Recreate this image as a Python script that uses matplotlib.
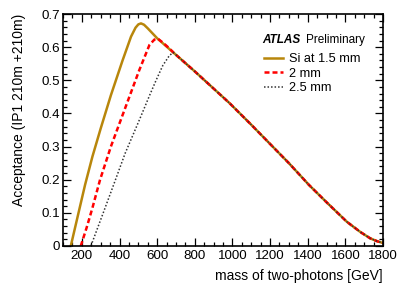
import matplotlib
matplotlib.use("Agg")
import matplotlib.pyplot as plt
from matplotlib.ticker import MultipleLocator, FixedLocator, FuncFormatter
from matplotlib.lines import Line2D

plt.rcParams['font.family'] = ['Liberation Sans', 'DejaVu Sans']

# --- data ---
gold_rise_mass = [141, 180, 217, 256, 300, 354, 416, 461, 485, 500, 514, 530, 550, 600]
gold_rise_acc = [0.0, 0.095, 0.185, 0.27, 0.355, 0.455, 0.56, 0.632, 0.659, 0.669, 0.672, 0.668, 0.657, 0.627]

red_rise_mass = [194, 225, 256, 296, 354, 452, 505, 559, 585, 603, 630, 660]
red_rise_acc = [0.0, 0.055, 0.115, 0.199, 0.30, 0.45, 0.531, 0.607, 0.623, 0.626, 0.614, 0.599]

black_rise_mass = [248, 274, 320, 372, 430, 505, 560, 594, 630, 665, 685]
black_rise_acc = [0.0, 0.04, 0.11, 0.19, 0.28, 0.38, 0.455, 0.50, 0.545, 0.575, 0.584]

tail_mass = [692, 800, 985, 1100, 1200, 1300, 1407, 1500, 1608, 1680, 1732, 1770, 1800]
tail_acc = [0.581, 0.527, 0.431, 0.366, 0.308, 0.25, 0.184, 0.132, 0.073, 0.042, 0.023, 0.014, 0.009]

labels = ["Si at 1.5 mm", "2 mm", "2.5 mm"]
colors = ["#b8860b", "#ff0000", "#333333"]

gold_m = gold_rise_mass + tail_mass
gold_a = gold_rise_acc + tail_acc
red_m = red_rise_mass + tail_mass
red_a = red_rise_acc + tail_acc
blk_m = black_rise_mass + tail_mass
blk_a = black_rise_acc + tail_acc

fig = plt.figure(figsize=(4.07, 2.88), dpi=100)
ax = fig.add_axes([0.155, 0.146, 0.786, 0.805])

ax.plot(gold_m, gold_a, color=colors[0], lw=1.8)
ax.plot(red_m, red_a, color=colors[1], lw=1.8, ls=(0, (2.0, 1.2)))
ax.plot(blk_m, blk_a, color=colors[2], lw=1.1, ls=(0, (1, 1.3)))

ax.set_xlim(100, 1800)
ax.set_ylim(0, 0.7)
ax.xaxis.set_major_locator(FixedLocator([200, 400, 600, 800, 1000, 1200, 1400, 1600, 1800]))
ax.xaxis.set_minor_locator(MultipleLocator(50))
ax.yaxis.set_major_locator(MultipleLocator(0.1))
ax.yaxis.set_minor_locator(MultipleLocator(0.02))
ax.yaxis.set_major_formatter(FuncFormatter(lambda v, p: "0" if abs(v) < 1e-9 else f"{v:.1f}"))

ax.tick_params(which='both', direction='in', top=True, right=True, labelsize=9.6, width=0.9)
ax.tick_params(which='major', length=6)
ax.tick_params(which='minor', length=3)
ax.tick_params(axis='x', pad=3)
ax.tick_params(axis='y', pad=2)
for s in ax.spines.values():
    s.set_linewidth(1.2)

ax.set_ylabel("Acceptance (IP1 210m +210m)", fontsize=10, loc='top', labelpad=11)
ax.set_xlabel("mass of two-photons [GeV]", fontsize=10, loc='right', labelpad=5)

# ATLAS label
fig.text(0.645, 0.862, "ATLAS", fontsize=8.5, fontweight='bold', fontstyle='italic', va='center')
fig.text(0.752, 0.862, "Preliminary", fontsize=8.5, va='center')

handles = [
    Line2D([], [], color=colors[0], lw=1.8),
    Line2D([], [], color=colors[1], lw=1.8, ls=(0, (2.0, 1.2))),
    Line2D([], [], color=colors[2], lw=1.1, ls=(0, (1, 1.3))),
]
leg = fig.legend(handles, labels, loc='upper left', bbox_to_anchor=(0.648, 0.815),
                 frameon=False, fontsize=9.2, handlelength=1.5, handletextpad=0.5,
                 labelspacing=0.2, borderaxespad=0, borderpad=0)

fig.savefig("out.png", dpi=100)
